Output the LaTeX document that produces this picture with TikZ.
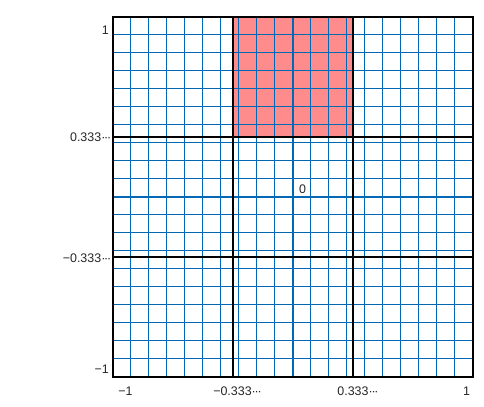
\documentclass[tikz,border=0pt]{standalone}
\usepackage{fontspec}
\setmainfont{Liberation Sans}
\newcommand{\tdots}{·\kern-1.2bp·\kern-1.2bp·}
\begin{document}
\begin{tikzpicture}[x=1bp,y=-1bp,
  gridline/.style={draw=gridblue,line width=0.9bp},
  axisline/.style={draw=gridblue,line width=1.8bp},
  thirdline/.style={draw=black,line width=2.2bp},
  framebox/.style={draw=black,line width=2.4bp},
  lbl/.style={inner sep=0pt,font=\fontsize{12.5}{14}\selectfont,text=black!85}]
\definecolor{gridblue}{RGB}{0,104,180}
\definecolor{pinkfill}{RGB}{255,140,140}
\useasboundingbox (0,0) rectangle (484,406);
% corners
\coordinate (tl) at (112.7,16.7);
\coordinate (br) at (472.7,376.7);
% shaded region
\fill[pinkfill] (232.7,16.7) rectangle (352.7,136.7);
% fine grid
\foreach \i in {1,...,19}{
  \draw[gridline] (112.7+18*\i,16.7) -- (112.7+18*\i,376.7);
  \draw[gridline] (112.7,16.7+18*\i) -- (472.7,16.7+18*\i);
}
% axes
\draw[axisline] (292.7,16.7) -- (292.7,376.7);
\draw[axisline] (112.7,196.7) -- (472.7,196.7);
% thirds
\draw[thirdline] (232.7,16.7) -- (232.7,376.7);
\draw[thirdline] (352.7,16.7) -- (352.7,376.7);
\draw[thirdline] (112.7,136.7) -- (472.7,136.7);
\draw[thirdline] (112.7,256.7) -- (472.7,256.7);
% frame
\draw[framebox] (tl) rectangle (br);
% labels
\node[lbl,anchor=east] (ly1) at (109,30) {1};
\node[lbl,anchor=east] (ly2) at (111.5,137.5) {0.333\tdots};
\node[lbl,anchor=east] (ly3) at (111.5,258) {−0.333\tdots};
\node[lbl,anchor=east] (ly4) at (109,369.5) {−1};
\node[lbl] (lx1) at (125.5,391) {−1};
\node[lbl] (lx2) at (237.5,391) {−0.333\tdots};
\node[lbl] (lx3) at (358,391) {0.333\tdots};
\node[lbl] (lx4) at (466.5,391) {1};
\node[lbl] (lo) at (302.7,189.5) {0};
\end{tikzpicture}
\end{document}
